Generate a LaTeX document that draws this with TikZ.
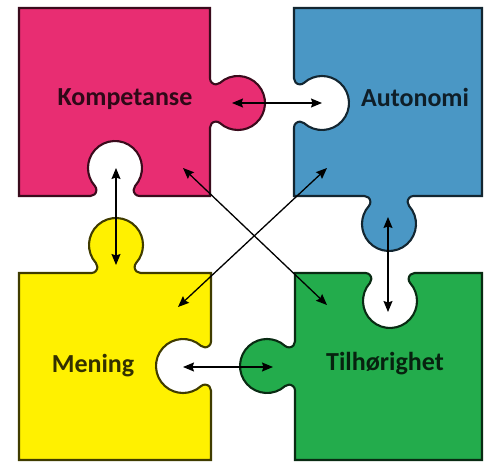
\documentclass[tikz,border=0pt]{standalone}
\usepackage{fontspec}
\setmainfont{Carlito}
\usetikzlibrary{arrows.meta,calc}

\definecolor{pinkfill}{RGB}{232,45,114}
\definecolor{bluefill}{RGB}{74,151,197}
\definecolor{yellowfill}{RGB}{255,241,0}
\definecolor{greenfill}{RGB}{35,172,76}

% One tab of a jigsaw edge: #1,#2 = middle of the edge, #3 = direction of travel,
% #4 = 1 for a knob (outwards), -1 for a socket (inwards).
\newcommand\jigtab[4]{%
  -- ($(#1,#2)+(#3+180:24.6)$)
  arc[start angle={#3+(#4)*(-90)}, end angle={#3+(#4)*41.8}, radius=6pt]
  arc[start angle={#3+(#4)*221.8}, end angle={#3+(#4)*(-41.8)}, radius=27pt]
  arc[start angle={#3+(#4)*138.2}, end angle={#3+(#4)*270}, radius=6pt]}

\tikzset{
  tilepath/.style={line width=2.1pt},
  tiletext/.style={font=\bfseries\fontsize{26}{30}\selectfont, anchor=base},
  linkarrow/.style={line width=1.3pt,
    {Stealth[length=11pt,width=9pt,inset=1.5pt]}-{Stealth[length=11pt,width=9pt,inset=1.5pt]}}
}

\begin{document}
\begin{tikzpicture}[x=1pt,y=1pt]
\useasboundingbox (0,0) rectangle (490,461);

% pieces, each traced clockwise
\draw[tilepath, fill=pinkfill, draw=pinkfill!25!black]
  (19,453) -- (210,453) \jigtab{210}{358}{270}{1}
  -- (210,265) \jigtab{115}{265}{180}{-1} -- (19,265) -- cycle;
\draw[tilepath, fill=bluefill, draw=bluefill!25!black]
  (294,453) -- (482,453) -- (482,265) \jigtab{389}{265}{180}{1}
  -- (294,265) \jigtab{294}{358}{90}{-1} -- cycle;
\draw[tilepath, fill=yellowfill, draw=yellowfill!25!black]
  (19,188) \jigtab{116}{188}{0}{1} -- (211,188)
  \jigtab{211}{95}{270}{-1} -- (211,1) -- (19,1) -- cycle;
\draw[tilepath, fill=greenfill, draw=greenfill!25!black]
  (295,188) \jigtab{390}{188}{0}{-1} -- (482,188) -- (482,1)
  -- (295,1) \jigtab{295}{95}{90}{1} -- cycle;

% labels
\node[tiletext, text=pinkfill!20!black] (komp) at (125,355) {Kompetanse};
\node[tiletext, text=bluefill!20!black] (auto) at (415,354) {Autonomi};
\node[tiletext, text=yellowfill!20!black] (men) at (93,89) {Mening};
\node[tiletext, text=greenfill!20!black] (tilh) at (385,91) {Tilhørighet};

% arrow ends
\coordinate (kR) at (232,358);
\coordinate (aL) at (322,358);
\coordinate (kB) at (116,293);
\coordinate (mT) at (116,196);
\coordinate (aB) at (388,244);
\coordinate (tT) at (388,149);
\coordinate (mR) at (183,94);
\coordinate (tL) at (273,94);
\coordinate (kD) at (183,293);
\coordinate (tD) at (327,156);
\coordinate (aD) at (327,293);
\coordinate (mD) at (178,154);

\draw[linkarrow] (kR) -- (aL);
\draw[linkarrow] (kB) -- (mT);
\draw[linkarrow] (aB) -- (tT);
\draw[linkarrow] (mR) -- (tL);
\draw[linkarrow] (kD) -- (tD);
\draw[linkarrow] (aD) -- (mD);
\end{tikzpicture}
\end{document}
